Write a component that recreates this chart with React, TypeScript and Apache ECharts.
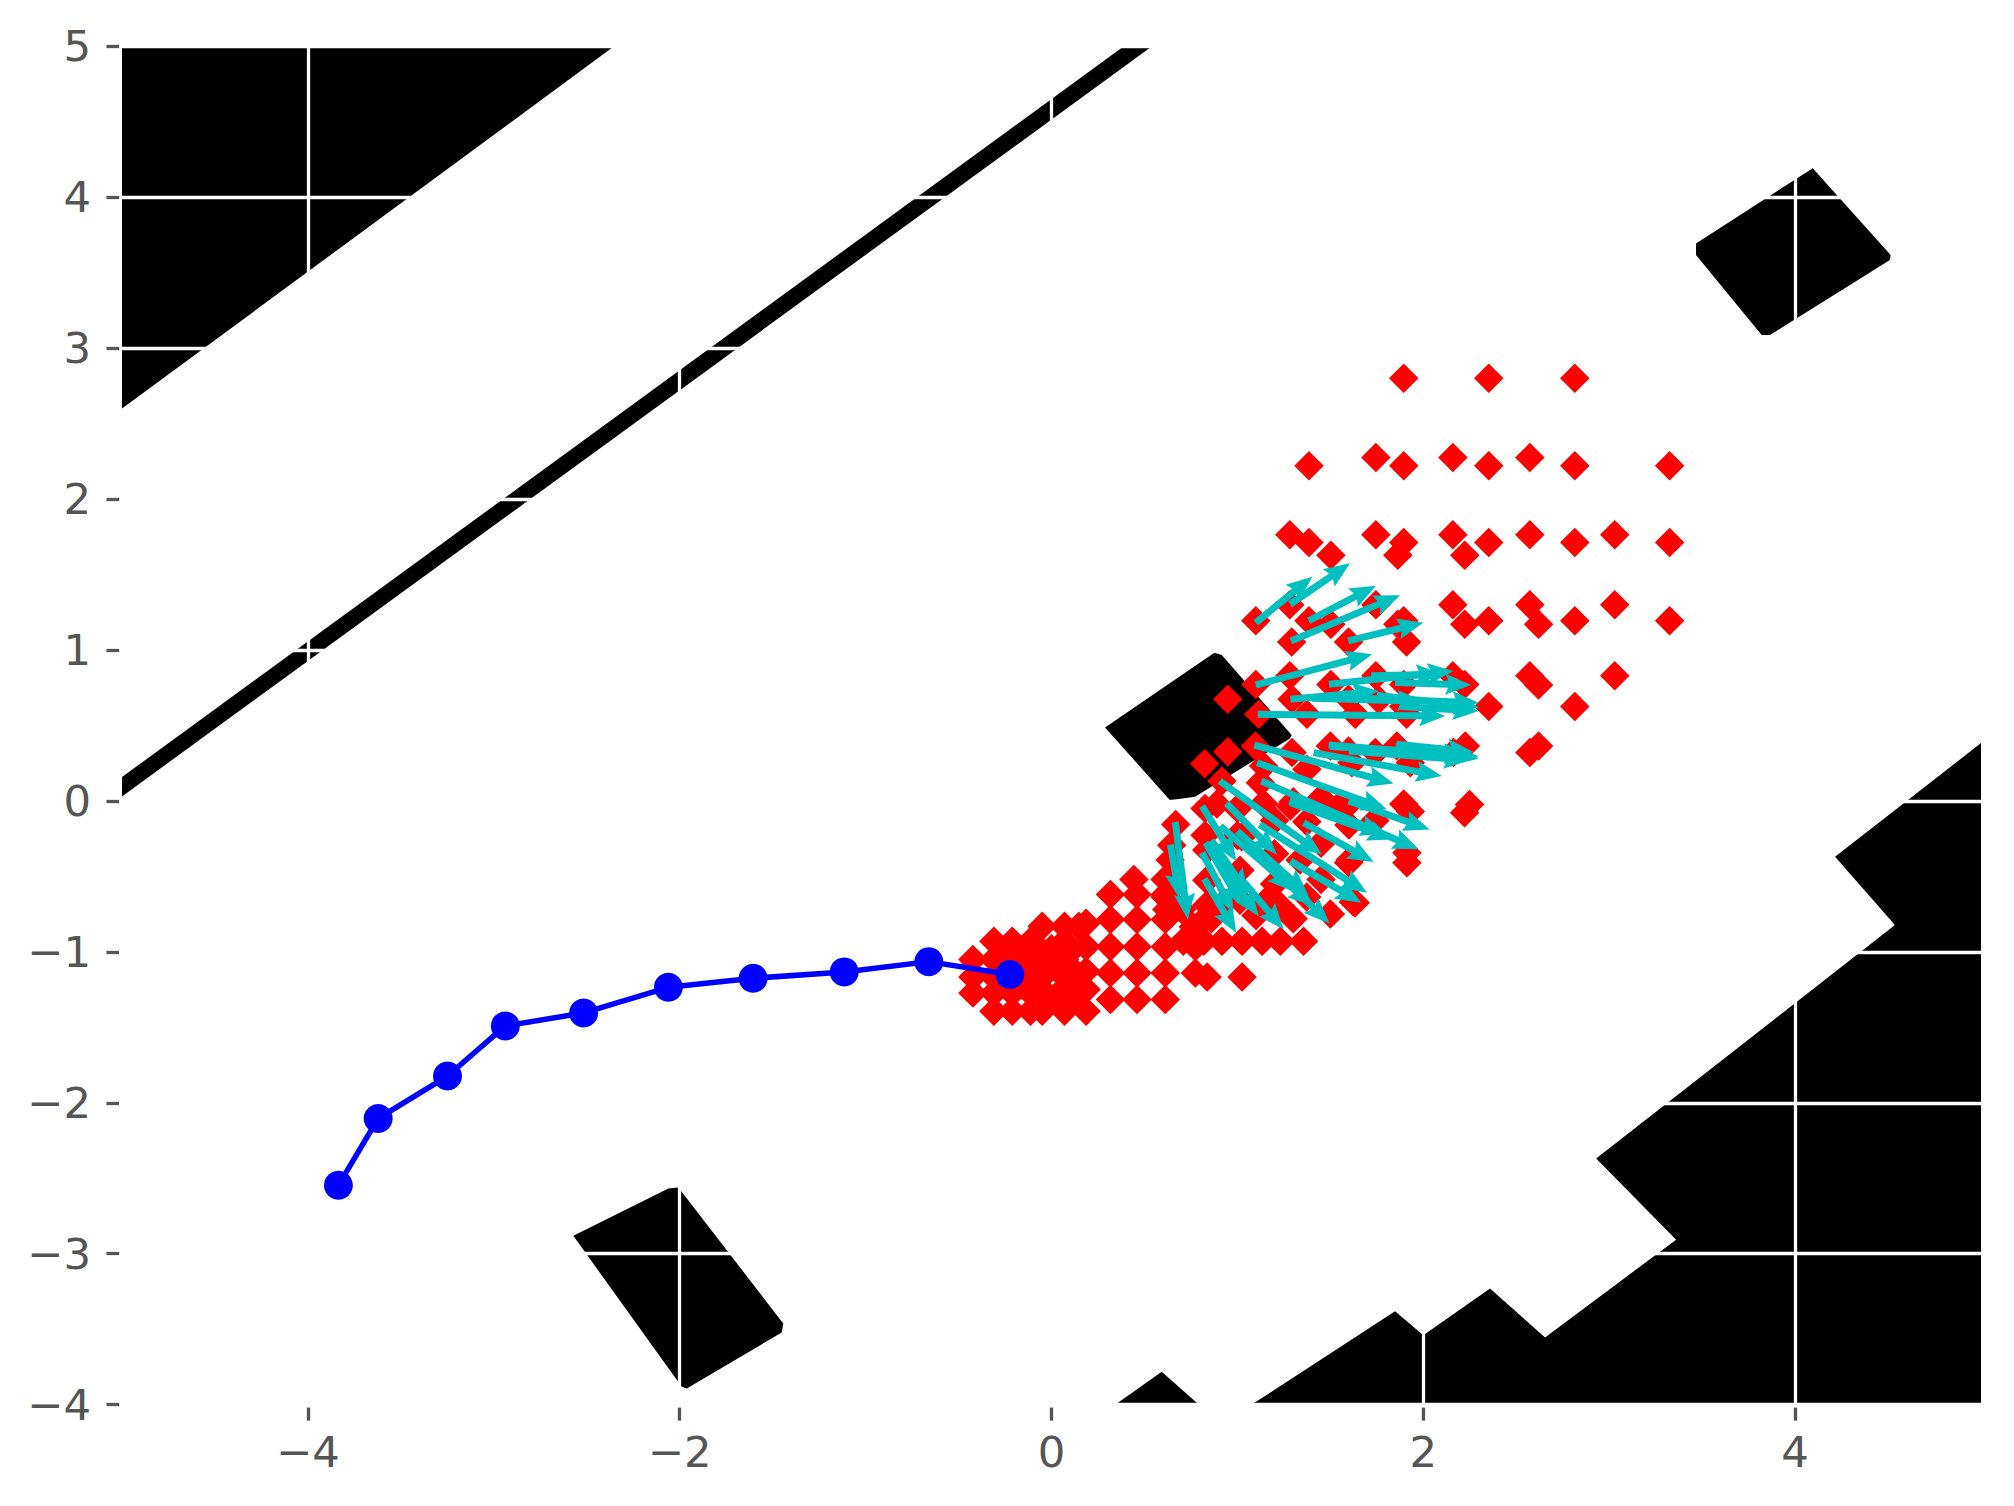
import React, { useEffect, useRef } from "react";
import * as echarts from "echarts";

const xTicks = [-4, -2, 0, 2, 4];

const topLeftWall = [[-5, 5], [-2.353, 5], [-5, 2.6]];
const diagonalWall = [[-5, 0.158], [-5, 0.03], [0.541, 5], [0.389, 5]];
const topRightBlock = [[4.095, 4.192], [4.514, 3.617], [4.51, 3.584], [3.865, 3.087], [3.82, 3.087], [3.467, 3.617], [3.467, 3.694]];
const centerBlock = [[0.876, 0.981], [0.916, 0.966], [1.292, 0.436], [1.283, 0.414], [0.772, 0.027], [0.637, 0.005], [0.288, 0.487]];
const bottomLeftBlock = [[-2.061, -2.568], [-2.007, -2.561], [-1.443, -3.463], [-1.451, -3.522], [-1.962, -3.893], [-1.989, -3.882], [-2.572, -2.882]];
const bottomRightWall = [[5, 0.383], [4.215, -0.37], [4.537, -0.823], [2.93, -2.37], [3.36, -2.907], [2.655, -3.555], [2.359, -3.23], [2.0, -3.54], [1.848, -3.381], [1.077, -4], [5, -4]];
const bottomSmallBlock = [[0.344, -4], [0.593, -3.783], [0.792, -4]];
const obstacles = [topLeftWall, diagonalWall, topRightBlock, centerBlock, bottomLeftBlock, bottomRightWall, bottomSmallBlock];

const redFar = [
  [1.895, 2.8], [2.352, 2.8], [2.815, 2.8],
  [1.385, 2.22], [1.895, 2.22], [2.352, 2.22], [2.815, 2.22], [3.325, 2.22],
  [1.745, 2.275], [2.159, 2.275], [2.573, 2.275],
  [1.282, 1.763], [1.745, 1.763], [2.159, 1.763], [2.573, 1.763], [3.03, 1.763],
  [1.385, 1.712], [1.895, 1.712], [2.352, 1.712], [2.815, 1.712], [3.325, 1.712],
  [1.503, 1.628], [1.863, 1.628], [2.223, 1.628],
  [1.282, 1.3], [1.745, 1.3], [2.159, 1.3], [2.573, 1.3], [3.03, 1.3],
  [1.099, 1.193], [1.385, 1.193], [1.895, 1.193], [2.352, 1.193], [2.815, 1.193], [3.325, 1.193],
  [1.503, 1.17], [1.863, 1.17], [2.223, 1.17], [2.62, 1.17],
  [1.292, 1.053], [1.598, 1.053], [1.91, 1.053],
];
const redMiddle = [
  [1.282, 0.83], [1.745, 0.83], [2.159, 0.83], [2.573, 0.83], [3.03, 0.83],
  [1.099, 0.772], [1.503, 0.772], [1.895, 0.772], [2.223, 0.772], [2.62, 0.768],
  [0.948, 0.673], [1.294, 0.673], [1.598, 0.673], [1.76, 0.67],
  [1.115, 0.574], [1.374, 0.574], [1.634, 0.574], [1.91, 0.574], [1.895, 0.625], [2.352, 0.625], [2.815, 0.625],
  [1.097, 0.364], [0.948, 0.326], [0.824, 0.247], [0.917, 0.132], [1.5, 0.364], [1.598, 0.33], [1.742, 0.32],
  [1.858, 0.364], [2.163, 0.32], [2.226, 0.364], [1.294, 0.32], [1.93, 0.253], [1.616, 0.253], [1.374, 0.209],
  [1.141, 0.231], [1.124, 0.12], [2.573, 0.32], [2.62, 0.364],
  [1.285, -0.034], [1.589, -0.034], [1.895, -0.02], [1.93, -0.07], [2.249, -0.023], [2.222, -0.078],
  [1.912, -0.343], [1.912, -0.41], [1.598, -0.41], [1.634, -0.675], [1.231, -0.697],
  [1.0, -0.05], [0.89, -0.02], [0.826, -0.05], [1.14, -0.017], [1.3, -0.006], [1.373, -0.138], [1.543, -0.039],
  [1.45, 0.02], [1.2, -0.13], [1.6, -0.16], [1.74, -0.13], [1.0, -0.23],
];
const redLowerMid = [
  [0.668, -0.156], [0.647, -0.293], [0.638, -0.392], [0.611, -0.636], [0.611, -0.52], [0.826, -0.227], [0.835, -0.326],
  [0.835, -0.525], [1.023, -0.238], [1.014, -0.459], [1.158, -0.658], [1.373, -0.636], [1.337, -0.392], [1.606, -0.392],
  [1.624, -0.669], [1.014, -0.658], [0.835, -0.69], [0.907, -0.702], [0.763, -0.834], [1.2, -0.35], [1.45, -0.28],
  [1.2, -0.55], [1.45, -0.52], [0.7, -0.72], [0.62, -0.72], [0.86, -0.78], [1.1, -0.76], [1.3, -0.78], [1.5, -0.75],
];
const redNear = [
  [-0.31, -1.393], [-0.211, -1.393], [-0.113, -1.393], [-0.05, -1.393], [0.07, -1.393], [0.186, -1.393],
  [0.317, -1.316], [0.46, -1.316], [0.612, -1.316],
  [-0.423, -1.272], [-0.31, -1.272], [-0.211, -1.272], [-0.113, -1.272], [-0.05, -1.272], [0.07, -1.25], [0.186, -1.25],
  [-0.423, -1.166], [-0.31, -1.166], [-0.211, -1.166], [-0.113, -1.166], [-0.05, -1.166], [0.07, -1.166], [0.186, -1.128],
  [0.317, -1.14], [0.46, -1.14], [0.612, -1.14], [0.774, -1.14], [0.837, -1.166], [1.025, -1.166],
  [-0.423, -1.05], [-0.31, -1.05], [-0.211, -1.05], [-0.113, -1.05], [0.0, -1.05], [0.07, -1.05], [0.186, -0.967],
  [0.317, -0.967], [0.46, -0.967], [0.612, -0.967], [0.774, -0.967],
  [-0.31, -0.93], [-0.211, -0.93], [-0.113, -0.93], [0.07, -0.93], [0.186, -0.81], [0.709, -0.93], [0.819, -0.93],
  [0.917, -0.93], [1.025, -0.93], [1.133, -0.93], [1.231, -0.93], [1.356, -0.93],
  [-0.05, -0.83], [0.07, -0.83], [0.147, -0.83],
  [0.317, -0.786], [0.46, -0.786], [0.612, -0.786], [0.817, -0.79],
  [0.317, -0.62], [0.46, -0.62], [0.612, -0.62], [0.443, -0.52], [0.64, -0.52],
  [-0.05, -1.0], [0.0, -0.98], [0.0, -1.1], [0.1, -1.0], [0.1, -1.2], [-0.05, -1.25], [0.02, -1.3], [0.1, -1.1],
  [-0.16, -1.0], [-0.16, -1.11], [-0.16, -1.22], [-0.26, -1.11], [-0.26, -0.99], [0.13, -1.32],
];

const arrowsUpper = [
  [1.099, 1.181, 1.403, 1.486], [1.284, 1.303, 1.606, 1.575], [1.383, 1.193, 1.745, 1.425], [1.288, 1.06, 1.875, 1.363],
  [1.596, 1.06, 2.0, 1.181], [1.099, 0.768, 1.725, 0.972], [1.493, 0.773, 2.163, 0.861], [1.849, 0.784, 2.258, 0.768],
  [1.285, 0.673, 1.76, 0.728], [1.598, 0.683, 2.297, 0.65], [1.109, 0.574, 2.118, 0.563], [1.885, 0.625, 2.297, 0.596],
  [1.75, 0.7, 2.3, 0.62], [1.4, 0.68, 2.0, 0.66], [1.72, 0.83, 2.1, 0.84],
];
const arrowsLower = [
  [1.091, 0.37, 1.84, 0.116], [1.491, 0.37, 2.297, 0.293], [1.855, 0.375, 2.27, 0.324], [1.41, 0.32, 2.1, 0.165],
  [1.5, 0.36, 2.29, 0.3], [1.74, 0.32, 2.25, 0.31], [1.85, 0.36, 2.297, 0.28], [1.6, 0.33, 2.25, 0.27],
  [1.106, 0.253, 1.804, -0.056], [1.598, 0.0, 2.034, -0.189], [1.129, 0.132, 1.975, -0.321], [1.285, -0.012, 1.84, -0.255],
  [1.356, -0.145, 1.733, -0.405], [0.905, 0.132, 1.455, -0.355], [1.12, -0.156, 1.697, -0.609], [1.285, -0.399, 1.667, -0.675],
  [0.941, -0.016, 1.213, -0.355], [0.81, -0.034, 0.994, -0.399], [1.124, -0.366, 1.496, -0.812], [0.908, -0.167, 1.41, -0.697],
  [0.666, -0.14, 0.733, -0.786], [0.828, -0.277, 1.115, -0.764], [0.822, -0.516, 0.994, -0.874], [1.016, -0.51, 1.249, -0.852],
  [0.81, -0.343, 0.98, -0.741], [0.64, -0.29, 0.69, -0.65], [0.84, -0.3, 1.03, -0.7], [0.86, -0.26, 1.06, -0.62],
  [1.28, 0.0, 1.8, -0.22], [1.0, -0.2, 1.38, -0.62], [1.05, -0.3, 1.3, -0.6],
];

const pathX = [-3.836, -3.622, -3.249, -2.938, -2.517, -2.061, -1.605, -1.115, -0.66, -0.224];
const pathY = [-2.547, -2.104, -1.823, -1.491, -1.405, -1.235, -1.175, -1.133, -1.065, -1.15];

const minus = (v: number) => String(v).replace("-", "\u2212");

export default function App() {
  const ref = useRef<HTMLDivElement>(null);
  useEffect(() => {
    const chart = echarts.init(ref.current!, undefined, { renderer: "svg" });
    const arrowData = [...arrowsUpper, ...arrowsLower];
    const W = 7;
    chart.setOption({
      animation: false,
      backgroundColor: "#ffffff",
      grid: { left: 122, top: 46.3, width: 1859, height: 1358.3 },
      xAxis: {
        type: "value",
        min: -5,
        max: 5,
        z: 1,
        offset: 3,
        axisLine: { show: false, onZero: false },
        axisTick: { show: true, length: 13, customValues: xTicks, lineStyle: { color: "#555555", width: 3.3 } },
        axisLabel: {
          show: true,
          customValues: xTicks,
          margin: 23,
          color: "#555555",
          fontFamily: "DejaVu Sans",
          fontSize: 43.4,
          formatter: minus,
        },
        splitLine: { show: true, lineStyle: { color: "#ffffff", width: 3.3 } },
      },
      yAxis: {
        type: "value",
        min: -4,
        max: 5,
        interval: 1,
        z: 1,
        offset: 3,
        axisLine: { show: false, onZero: false },
        axisTick: { show: true, length: 12.5, lineStyle: { color: "#555555", width: 3.3 } },
        axisLabel: {
          show: true,
          margin: 28,
          padding: [4, 0, 0, 0],
          color: "#555555",
          fontFamily: "DejaVu Sans",
          fontSize: 43.4,
          formatter: minus,
        },
        splitLine: { show: true, lineStyle: { color: "#ffffff", width: 3.3 } },
      },
      series: [
        {
          type: "custom",
          coordinateSystem: "cartesian2d",
          z: 0,
          silent: true,
          clip: false,
          data: obstacles.map((p) => p[0]),
          renderItem: (params: any, api: any) => ({
            type: "polygon",
            shape: { points: obstacles[params.dataIndex].map((p) => api.coord(p)) },
            style: { fill: "#000000" },
          }),
        },
        {
          type: "scatter",
          z: 2,
          silent: true,
          symbol: "diamond",
          symbolSize: 29.5,
          itemStyle: { color: "#ff0000", opacity: 1 },
          data: [...redFar, ...redMiddle, ...redLowerMid, ...redNear],
        },
        {
          type: "custom",
          coordinateSystem: "cartesian2d",
          z: 3,
          silent: true,
          clip: false,
          encode: { x: [0, 2], y: [1, 3] },
          data: arrowData,
          renderItem: (_: any, api: any) => {
            const a = api.coord([api.value(0), api.value(1)]);
            const b = api.coord([api.value(2), api.value(3)]);
            const dx = b[0] - a[0];
            const dy = b[1] - a[1];
            const len = Math.hypot(dx, dy) || 1;
            const ux = dx / len;
            const uy = dy / len;
            const nx = -uy;
            const ny = ux;
            const at = (along: number, side: number) => [
              b[0] - ux * along + nx * side,
              b[1] - uy * along + ny * side,
            ];
            return {
              type: "polygon",
              shape: {
                points: [
                  [a[0] + nx * W * 0.5, a[1] + ny * W * 0.5],
                  at(3.3 * W, W * 0.5),
                  at(3.7 * W, W * 1.5),
                  at(0, 0),
                  at(3.7 * W, -W * 1.5),
                  at(3.3 * W, -W * 0.5),
                  [a[0] - nx * W * 0.5, a[1] - ny * W * 0.5],
                ],
              },
              style: { fill: "#00bfbf" },
            };
          },
        },
        {
          type: "line",
          z: 4,
          silent: true,
          symbol: "circle",
          symbolSize: 29,
          showAllSymbol: true,
          itemStyle: { color: "#0000ff", opacity: 1 },
          lineStyle: { color: "#0000ff", width: 5.5 },
          data: pathX.map((x, i) => [x, pathY[i]]),
        },
      ],
    });
    return () => chart.dispose();
  }, []);
  return <div ref={ref} style={{ position: "fixed", left: 0, top: 0, width: 2014, height: 1506 }} />;
}
